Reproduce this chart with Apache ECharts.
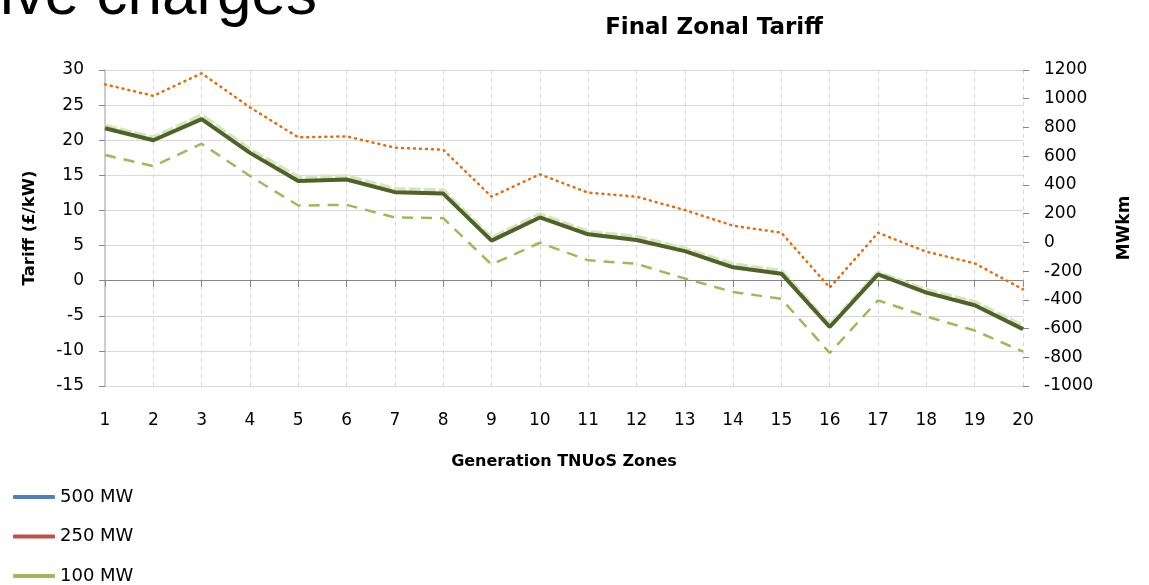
<!DOCTYPE html>
<html>
<head>
<meta charset="utf-8">
<script src="https://cdn.jsdelivr.net/npm/echarts@6/dist/echarts.min.js"></script>
<style>
  html, body { margin: 0; padding: 0; background: #fff; }
  #mainLine { width: 1149px; height: 585px; }
</style>
</head>
<body>
<div id="mainLine"></div>
<script>
// zones and read-off values
var zones = ['1','2','3','4','5','6','7','8','9','10','11','12','13','14','15','16','17','18','19','20'];
var tariffMain = [21.7, 20.0, 23.0, 18.2, 14.2, 14.4, 12.6, 12.4, 5.7, 9.0, 6.6, 5.8, 4.2, 1.9, 1.0, -6.6, 0.9, -1.7, -3.5, -6.9];
var tariffPale = [22.0, 20.3, 23.5, 18.6, 14.7, 14.8, 13.0, 12.8, 6.0, 9.4, 6.9, 6.2, 4.5, 2.3, 1.3, -6.4, 1.1, -1.4, -3.1, -6.5];
var tariffLow = [17.9, 16.3, 19.5, 14.9, 10.7, 10.8, 9.0, 8.9, 2.3, 5.4, 2.9, 2.4, 0.3, -1.6, -2.6, -10.3, -2.8, -5.1, -7.1, -10.1];
var mwkm = [1100, 1020, 1177, 940, 731, 738, 659, 645, 318, 474, 346, 318, 225, 116, 67, -315, 67, -65, -146, -327];
var legendNames = ['500 MW', '250 MW', '100 MW'];
var legendColors = ['#4F81BD', '#C0504D', '#9BBB59'];

var font = 'DejaVu Sans';

var option = {
    animation: false,
    backgroundColor: '#fff',
    title: {
        text: 'Final Zonal Tariff',
        left: 709,
        top: 12,
        textAlign: 'center',
        textStyle: { fontFamily: font, fontSize: 23, fontWeight: 'bold', color: '#000' }
    },
    graphic: [{
        type: 'text',
        left: 0,
        top: -34,
        style: { text: 'ive charges', fontFamily: 'Liberation Sans', fontSize: 62, fill: '#000' }
    }],
    legend: {
        orient: 'vertical',
        left: 13,
        top: 488,
        height: 140,
        padding: 0,
        icon: 'roundRect',
        itemWidth: 42,
        itemHeight: 4,
        itemGap: 21.5,
        data: legendNames,
        textStyle: { fontFamily: font, fontSize: 18, color: '#000' }
    },
    grid: { left: 105, right: 126, top: 70, bottom: 199 },
    xAxis: [{
        type: 'category',
        boundaryGap: false,
        data: zones,
        position: 'bottom',
        axisLine: { show: false, onZero: false },
        axisTick: { show: false },
        axisLabel: { margin: 26, fontFamily: font, fontSize: 17, color: '#000' },
        splitLine: { show: true, lineStyle: { color: '#d9d9d9', type: [4, 4], width: 1 } },
        name: 'Generation TNUoS Zones',
        nameLocation: 'middle',
        nameGap: 68,
        nameTextStyle: { fontFamily: font, fontSize: 16, fontWeight: 'bold', color: '#000' }
    }, {
        type: 'category',
        boundaryGap: false,
        data: zones,
        position: 'bottom',
        axisLine: { show: true, onZero: true, onZeroAxisIndex: 0, lineStyle: { color: '#868686', width: 1 } },
        axisTick: { show: true, length: 6, lineStyle: { color: '#868686' } },
        axisLabel: { show: false },
        splitLine: { show: false }
    }],
    yAxis: [{
        type: 'value',
        min: -15,
        max: 30,
        interval: 5,
        axisLine: { show: true, lineStyle: { color: '#bfbfbf', width: 1.5 } },
        axisTick: { show: true, length: 6, lineStyle: { color: '#868686' } },
        axisLabel: { margin: 21, fontFamily: font, fontSize: 17, color: '#000' },
        splitLine: { show: true, lineStyle: { color: '#d9d9d9', width: 1 } },
        name: 'Tariff (£/kW)',
        nameLocation: 'middle',
        nameRotate: 90,
        nameGap: 67,
        nameTextStyle: { fontFamily: font, fontSize: 16.5, fontWeight: 'bold', color: '#000' }
    }, {
        type: 'value',
        min: -1000,
        max: 1200,
        interval: 200,
        position: 'right',
        axisLine: { show: false },
        axisTick: { show: true, length: 6, lineStyle: { color: '#868686' } },
        axisLabel: { margin: 21, fontFamily: font, fontSize: 17, color: '#000', formatter: function (v) { return String(v); } },
        splitLine: { show: false },
        name: 'MWkm',
        nameLocation: 'middle',
        nameRotate: 90,
        nameGap: 93,
        nameTextStyle: { fontFamily: font, fontSize: 17, fontWeight: 'bold', color: '#000' }
    }],
    series: [
        {
            name: 'MWkm', type: 'line', yAxisIndex: 1, data: mwkm, symbol: 'none',
            lineStyle: { color: '#E46C0A', width: 2.5, type: [1, 5], cap: 'round' }
        },
        {
            name: 'pale', type: 'line', data: tariffPale, symbol: 'none',
            lineStyle: { color: '#D7E4BD', width: 5, type: [12, 3] }
        },
        {
            name: 'low', type: 'line', data: tariffLow, symbol: 'none',
            lineStyle: { color: '#9BBB59', width: 2.5, type: [11, 8] }
        },
        {
            name: 'main', type: 'line', data: tariffMain, symbol: 'none',
            lineStyle: { color: '#4F6228', width: 4 }
        },
        { name: legendNames[0], type: 'line', data: [], color: legendColors[0] },
        { name: legendNames[1], type: 'line', data: [], color: legendColors[1] },
        { name: legendNames[2], type: 'line', data: [], color: legendColors[2] }
    ]
};

var myChart = echarts.init(document.getElementById('mainLine'));
myChart.setOption(option, true);
</script>
</body>
</html>
